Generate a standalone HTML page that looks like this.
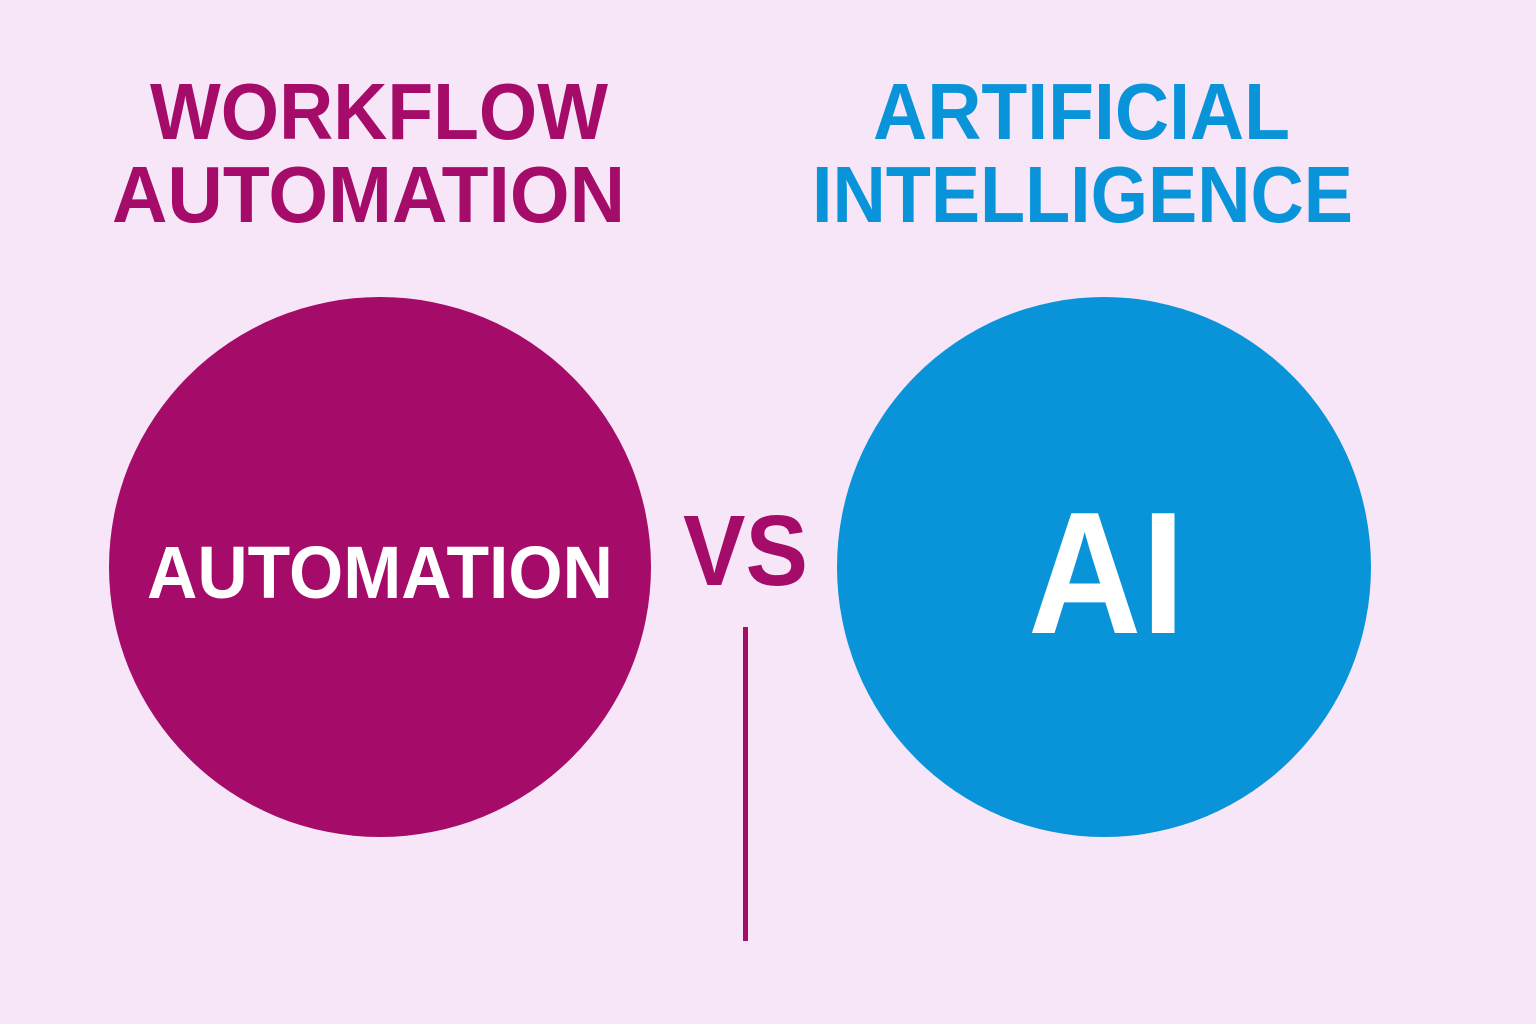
<!DOCTYPE html>
<html><head><meta charset="utf-8"><style>
html,body{margin:0;padding:0;background:#f6e6f7;}
svg{display:block;}
text{font-family:"Liberation Sans",sans-serif;font-weight:bold;}
</style></head><body>
<svg width="1536" height="1024" viewBox="0 0 1536 1024" xmlns="http://www.w3.org/2000/svg">
<rect width="1536" height="1024" fill="#f6e6f7"/>
<text x="150" y="139" font-size="80" fill="#a50b69" textLength="458" lengthAdjust="spacingAndGlyphs">WORKFLOW</text>
<text x="112" y="222" font-size="80" fill="#a50b69" textLength="513" lengthAdjust="spacingAndGlyphs">AUTOMATION</text>
<text x="873" y="139" font-size="80" fill="#0994d9" textLength="417" lengthAdjust="spacingAndGlyphs">ARTIFICIAL</text>
<text x="812" y="222" font-size="80" fill="#0994d9" textLength="541" lengthAdjust="spacingAndGlyphs">INTELLIGENCE</text>
<ellipse cx="380" cy="567" rx="271" ry="270" fill="#a50b69"/>
<ellipse cx="1104" cy="567" rx="267" ry="270" fill="#0994d9"/>
<text x="147" y="598" font-size="74" fill="#ffffff" textLength="466" lengthAdjust="spacingAndGlyphs">AUTOMATION</text>
<text x="683" y="585" font-size="100" fill="#a50b69" textLength="125" lengthAdjust="spacingAndGlyphs">VS</text>
<text x="1028" y="633" font-size="174" fill="#ffffff" textLength="157" lengthAdjust="spacingAndGlyphs">AI</text>
<rect x="743" y="627" width="5" height="314" fill="#a50b69"/>
</svg>
</body></html>
